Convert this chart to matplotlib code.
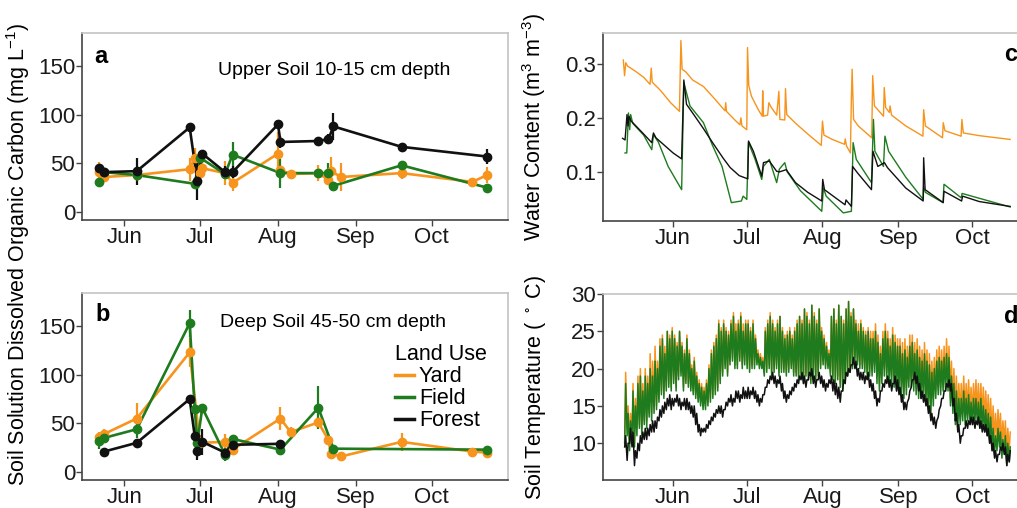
import datetime as dt
import numpy as np
import matplotlib
matplotlib.use("Agg")
import matplotlib.pyplot as plt
import matplotlib.dates as mdates
from matplotlib.lines import Line2D

plt.rcParams['font.family'] = ['Liberation Sans', 'DejaVu Sans']
plt.rcParams['mathtext.default'] = 'regular'

YARD = '#F7941D'
FIELD = '#1E7B1E'
FOREST = '#111111'

# ---- panel a: upper soil DOC (mg/L), sampling date, mean, error ----
a_yard_dates = ['05-22', '05-24', '06-06', '06-27', '06-29', '07-01', '07-02', '07-11', '07-14',
                '08-01', '08-02', '08-06', '08-17', '08-21', '08-22', '08-26', '09-19', '10-17', '10-23']
a_yard = [41, 36, 38, 44, 56, 40, 45, 40, 30, 60, 43, 39, 40, 33, 42, 36, 40, 31, 38]
a_yard_err = [10, 4, 5, 12, 10, 6, 6, 12, 8, 22, 5, 3, 8, 5, 15, 14, 6, 3, 8]

a_field_dates = ['05-22', '05-24', '06-06', '06-29', '07-01', '07-11', '07-14', '08-02',
                 '08-17', '08-21', '08-23', '09-19', '10-23']
a_field = [31, 41, 38, 29, 56, 39, 59, 40, 40, 40, 27, 48, 25]
a_field_err = [3, 4, 6, 4, 6, 4, 13, 15, 4, 10, 3, 3, 2]

a_forest_dates = ['05-22', '05-24', '06-06', '06-27', '06-30', '07-02', '07-11', '07-14',
                  '08-01', '08-02', '08-17', '08-21', '08-23', '09-19', '10-23']
a_forest = [45, 41, 42, 87, 32, 60, 41, 41, 90, 72, 73, 75, 88, 67, 57]
a_forest_err = [3, 2, 14, 3, 20, 3, 6, 6, 4, 6, 4, 5, 14, 4, 8]

# ---- panel b: deep soil DOC ----
b_yard_dates = ['05-22', '05-24', '06-06', '06-27', '07-01', '07-11', '07-14', '08-02',
                '08-06', '08-17', '08-21', '08-22', '08-26', '09-19', '10-17', '10-23']
b_yard = [36, 39, 55, 123, 30, 31, 23, 55, 41, 51, 33, 19, 16, 31, 21, 20]
b_yard_err = [5, 5, 16, 15, 8, 8, 6, 12, 5, 6, 4, 3, 3, 9, 3, 3]

b_field_dates = ['05-22', '05-24', '06-06', '06-27', '06-29', '06-30', '07-02', '07-11',
                 '07-14', '08-02', '08-17', '08-23', '10-23']
b_field = [32, 35, 44, 153, 65, 30, 66, 18, 34, 23, 66, 24, 23]
b_field_err = [8, 5, 9, 14, 4, 12, 4, 7, 4, 3, 22, 3, 2]

b_forest_dates = ['05-24', '06-06', '06-27', '06-29', '06-30', '07-02', '07-11', '07-14', '08-02']
b_forest = [21, 30, 75, 37, 22, 31, 20, 28, 29]
b_forest_err = [3, 3, 3, 3, 10, 13, 3, 3, 3]

# ---- panel c: volumetric water content, vertices (days after 1 Jun, value) ----
c_yard_day = [-20.3, -19.8, -19.3, -18.6, -15, -12, -9.4, -8.9, -8.5, -5, -1, 2.6, 3.2, 3.7, 5.2, 8,
              12.4, 17, 21.2, 21.5, 21.8, 25, 27.3, 27.7, 28.1, 30.1, 30.4, 30.9, 32, 34.8, 36.4,
              36.6, 36.9, 38.6, 39.1, 40, 42.3, 43.2, 43.6, 45.6, 45.9, 46.4, 50, 55, 60.5, 61.0,
              61.6, 65, 70.0, 70.3, 70.8, 72.4, 72.8, 73.1, 73.7, 75.6, 81.1, 81.5, 82.2, 85.9,
              86.2, 86.8, 88.3, 88.6, 89.2, 95, 102.0, 102.3, 103.0, 110.0, 110.3, 111.0, 117.6,
              117.9, 118.5, 125, 137.6]
c_yard = [0.307, 0.278, 0.302, 0.296, 0.285, 0.275, 0.262, 0.292, 0.266, 0.25, 0.228, 0.212,
          0.343, 0.29, 0.285, 0.27, 0.258, 0.235, 0.213, 0.228, 0.212, 0.197, 0.187, 0.2, 0.185,
          0.178, 0.33, 0.26, 0.24, 0.215, 0.203, 0.25, 0.203, 0.205, 0.228, 0.22, 0.205, 0.249,
          0.197, 0.196, 0.254, 0.206, 0.19, 0.17, 0.149, 0.194, 0.168, 0.16, 0.151, 0.161, 0.148,
          0.135, 0.237, 0.29, 0.197, 0.185, 0.163, 0.278, 0.222, 0.203, 0.256, 0.219, 0.21, 0.222,
          0.205, 0.185, 0.166, 0.215, 0.185, 0.163, 0.191, 0.176, 0.166, 0.197, 0.172, 0.167, 0.16]

c_field_day = [-19.6, -18.9, -18.2, -17.7, -17.3, -16.5, -12, -8.7, -8.0, -6, -2, 3.5, 4.4, 6.9,
               12.4, 16, 20, 23.8, 27.9, 28.6, 30.1, 30.8, 33.5, 36.2, 36.9, 39.3, 42.3, 43.4,
               45.6, 46.6, 52, 60.7, 61.4, 62.5, 69.5, 72.8, 73.5, 74.8, 81.0, 81.8, 82.4, 85.9,
               86.5, 88, 95, 102.1, 102.3, 103, 110.2, 110.6, 117.6, 118.0, 137.6]
c_field = [0.135, 0.135, 0.209, 0.178, 0.206, 0.19, 0.168, 0.141, 0.169, 0.155, 0.11, 0.067,
           0.265, 0.222, 0.191, 0.15, 0.11, 0.043, 0.046, 0.055, 0.049, 0.154, 0.123, 0.086,
           0.11, 0.123, 0.08, 0.105, 0.117, 0.1, 0.065, 0.027, 0.07, 0.055, 0.024, 0.027, 0.154,
           0.123, 0.08, 0.197, 0.138, 0.11, 0.166, 0.138, 0.09, 0.049, 0.073, 0.062, 0.043,
           0.077, 0.052, 0.06, 0.035]

c_forest_day = [-20.6, -19.6, -18.8, -18.4, -18.0, -17.3, -12, -8.7, -8.0, -7, 0, 3.5, 4.4, 5.5,
                8.9, 12.4, 16, 20.5, 23.3, 27, 30.5, 30.8, 32.8, 36.2, 36.9, 39.3, 42.3, 43.5,
                46.2, 50, 55, 60.7, 61.1, 61.8, 70.2, 70.6, 72.8, 73.3, 75.3, 81.0, 81.6, 83.6,
                86.3, 87.5, 95, 102.1, 102.3, 102.9, 110.3, 110.6, 117.8, 118.2, 125, 137.6]
c_forest = [0.162, 0.159, 0.206, 0.185, 0.203, 0.195, 0.17, 0.154, 0.172, 0.163, 0.135, 0.124,
            0.27, 0.225, 0.203, 0.18, 0.155, 0.125, 0.108, 0.093, 0.087, 0.157, 0.138, 0.092,
            0.117, 0.12, 0.101, 0.1, 0.104, 0.08, 0.062, 0.046, 0.086, 0.067, 0.039, 0.048,
            0.036, 0.11, 0.098, 0.067, 0.138, 0.11, 0.117, 0.108, 0.07, 0.046, 0.126, 0.067,
            0.043, 0.064, 0.046, 0.055, 0.045, 0.036]

# ---- panel d: daily min / max soil temperature, 12 May - 16 Oct ----
d_start = dt.datetime(2017, 5, 12)
yard_tmax = [19.5, 15, 14, 18, 16, 19, 20, 18, 20, 19, 22, 21, 23, 21, 24, 24.5, 23, 25, 24.5, 25.5,
             24.5, 23.5, 25, 23.5, 22.5, 24.5, 22.5, 20.5, 21.5, 19.5, 18.5, 18, 17.5, 18.5, 20.5,
             22.5, 23.5, 24.5, 26.5, 25.5, 26.5, 25.5, 25, 26.5, 27.5, 26, 26.5, 27.5, 26, 26.5,
             26.5, 25.5, 26.5, 24.5, 22.5, 22, 21.5, 25.5, 26.5, 27.5, 26.5, 25.5, 26.5, 27, 25.5,
             24.5, 25, 25.5, 24.5, 25.5, 26.5, 27, 26.5, 28, 27.5, 26.5, 28.5, 27.5, 26.5, 28, 25.5,
             24.5, 23.5, 22.5, 27, 28, 26.5, 28.5, 27, 26.5, 28, 29, 27.5, 28, 26.5, 26, 26.5, 25.5,
             25, 25.5, 25, 25, 26, 24.5, 23, 25, 26, 25, 24, 25.5, 24.5, 24,
             24, 23.5, 24, 23, 24.5, 24.5, 23.5, 24, 23, 22.5, 23.5, 22.5, 22, 21, 21.5, 22.5, 23,
             22.5, 23, 24, 23, 21, 20, 19, 18, 18, 19, 18, 18.5, 17.5,
             18, 18.5, 18, 18, 17.5, 17, 16.5, 16, 15, 14, 14.5, 14, 13, 13, 12, 11.5]
yard_tmin = [10.5, 12, 10, 11, 10, 12, 12.5, 12, 13, 13, 14, 14, 15, 15, 16, 17, 16.5, 17.5, 18, 17.5,
             18.5, 17.5, 19, 19.5, 17.5, 18.5, 18, 17.5, 17, 16.5, 16, 15.5, 15, 15, 15.5, 16, 16.5,
             17, 17.5, 18.5, 19.5, 20.5, 19.5, 21, 21.5, 20.5, 20.5, 21.5, 20.5, 21,
             20.5, 20, 20.5, 20.5, 21, 20.5, 20.5, 19.5, 20, 20.5, 19.5, 20, 20.5, 19.5, 20, 20,
             19.5, 20, 20.5, 19.5, 19.5, 19, 19.5, 18.5, 19.5, 19, 18.5, 19.5, 19, 19.5, 20.5,
             21, 20.5, 20.5, 19.5, 19, 18.5, 19, 18, 17.5, 18.5, 19.5, 20, 20.5, 21.5, 21, 20.5,
             20.5, 20, 19.5, 19.5, 20, 20.5, 19, 18, 19, 20, 19.5, 19, 19, 18.5, 18,
             18, 17.5, 17, 17.5, 18.5, 18.5, 18, 17.5, 17, 17, 17, 16.5, 15.5, 15, 16, 17, 17.5,
             17.5, 18, 18, 18, 16, 15, 14, 13.5, 14, 14.5, 14, 14.5, 14,
             14, 14.5, 14, 13.5, 13.5, 13, 12.5, 11.5, 10.5, 10, 10.5, 11, 9.5, 10, 8.5, 9]
field_tmax = [18, 14, 13, 17, 15, 18, 19, 17, 19, 18, 20, 19, 21, 20, 23, 24, 22, 25, 24, 25,
              24, 23, 25, 23, 22, 24, 22, 20, 21, 19, 18, 17.5, 17, 18, 20, 22, 23, 24, 26, 25,
              26, 25, 24.5, 26, 27, 25, 26, 27, 25, 26,
              26, 25, 26, 24, 22, 21.5, 21, 25, 26, 27, 26, 25, 26, 27, 25, 24, 24.5, 25, 24, 25,
              26, 27, 26, 28, 27, 26, 28.5, 27, 26, 28, 25,
              24, 23, 22, 27, 28, 26, 28.5, 27, 26, 28, 29, 27, 28, 26, 25, 26, 25, 24.5, 25, 24,
              24, 25, 23.5, 22, 24, 25, 24, 23, 24.5, 23.5, 23,
              23, 22, 22.5, 21.5, 23, 23.5, 22, 22.5, 21.5, 21, 22, 21, 20.5, 19.5, 20, 21, 21.5,
              21, 21.5, 22, 21.5, 19, 18, 17, 16, 16, 17, 16, 16.5, 15.5,
              16, 16, 15.5, 16, 15, 14.5, 14, 13.5, 12, 11, 12, 11.5, 10.5, 11, 10, 9.5]
field_tmin = [10, 11, 9, 10, 9.5, 11, 12, 11, 12.5, 12, 13.5, 13, 14, 14.5, 15.5, 16.5, 16, 17, 17.5, 17,
              18, 17, 18.5, 19, 17, 18, 17.5, 17, 16.5, 16, 15.5, 15, 14.5, 14.5, 15, 15.5, 16,
              16.5, 17, 18, 19, 20, 19, 20.5, 21, 20, 20, 21, 20, 20.5,
              20, 19.5, 20, 20, 20.5, 20, 20, 19, 19.5, 20, 19, 19.5, 20, 19, 19.5, 19.5, 19, 19.5,
              20, 19, 19, 18.5, 19, 18, 19, 18.5, 18, 19, 18.5, 19, 20,
              20.5, 20, 20, 19, 18.5, 18, 18.5, 17.5, 17, 18, 19, 19.5, 20, 21, 20.5, 20, 20, 19.5,
              19, 19, 19, 19.5, 18, 17, 18, 19, 18.5, 18, 18, 17.5, 17,
              17, 16.5, 16, 16.5, 17.5, 17.5, 17, 16.5, 16, 16, 16, 15.5, 14.5, 14, 15, 16, 16.5,
              16.5, 17, 17, 17, 15, 14, 12.5, 12, 12.5, 13, 12.5, 13, 12.5,
              12.5, 13, 12.5, 12, 12, 11.5, 11, 10, 9, 8.5, 9, 9.5, 8, 8.5, 7, 7.5]
forest_tmax = [11, 10, 12, 11.5, 9, 10, 11, 11.5, 12, 12, 12.5, 13, 13, 13.5, 14.5, 15, 15.5, 16, 16.5, 16,
               16, 16.5, 16, 15.5, 16, 16, 15.5, 15, 15, 14, 12.5, 12, 12, 12.5, 13, 13.5, 14, 14.5,
               15, 15, 14.5, 15.5, 16, 16.5, 16, 17, 17, 16.5, 17.5, 17,
               17.5, 17, 17.5, 17, 16.5, 16, 16.5, 17.5, 18.5, 19, 19.5, 19, 18.5, 19, 18, 17, 16.5,
               17, 17.5, 18, 18.5, 19, 19.5, 19, 18.5, 19.5, 20, 19, 18.5, 19.5, 19,
               18.5, 18, 18.5, 19, 18.5, 18, 17.5, 17, 18.5, 19.5, 20, 20.5, 21.5, 21, 20, 19.5,
               19.5, 19, 19.5, 18.5, 18, 17, 16, 17, 18, 18.5, 19, 18.5, 18, 19, 18.5,
               17.5, 16.5, 15.5, 15.5, 17, 18.5, 19.5, 19, 18, 17, 16.5, 16, 15, 14, 13.5, 13, 14.5,
               16, 17, 18, 18.5, 18, 16, 14, 12.5, 11, 12, 13, 13, 13.5,
               13.5, 13, 13.5, 13, 12.5, 12.5, 12, 11, 10, 9, 8.5, 9.5, 10, 9.5, 8.5, 9]
forest_tmin = [9.5, 7.7, 10, 9.5, 7, 8, 9, 10, 10.5, 10.5, 11, 11.5, 11.5, 12, 13, 13.5, 14, 14.5, 15, 14.5,
               15, 15.5, 15, 14.5, 15, 14.5, 14.5, 14, 13.5, 12.5, 11.5, 11, 11.5, 11.5, 12, 12.5,
               13, 13.5, 14, 14, 13.5, 14.5, 15, 15.5, 15, 15.5, 16, 15.5, 16, 16,
               16, 16, 16.5, 16, 15.5, 15, 15.5, 16.5, 17.5, 18, 18.5, 18, 17.5, 18, 17, 16, 15.5,
               16, 16.5, 17, 17.5, 18, 18.5, 18, 17.5, 18.5, 19, 18, 17.5, 18.5, 18,
               17.5, 17, 17.5, 18, 17, 16.5, 16, 15.5, 17, 18, 19, 19.5, 20.5, 20, 19, 18.5, 18.5,
               18, 18.5, 17.5, 17, 16, 15, 15.5, 17, 17.5, 18, 17.5, 17, 18, 17,
               16.5, 15.5, 14.5, 14.5, 16, 17.5, 18.5, 18, 17, 16, 15.5, 15, 14, 13, 12.5, 12, 13.5,
               15, 16, 17, 17.5, 17, 15, 13, 11.5, 10, 11, 12, 12, 12.5,
               12.5, 12, 12.5, 12, 11.5, 11.5, 11, 10, 9, 8, 7.5, 8.5, 9, 8.5, 7, 7.5]

JUN1 = dt.datetime(2017, 6, 1)


def to_date(s):
    return dt.datetime.strptime('2017-' + s, '%Y-%m-%d')


def after_jun1(days):
    return [JUN1 + dt.timedelta(days=x) for x in days]


def style(ax):
    for s in ['top', 'right']:
        ax.spines[s].set_color('#c4c4c4')
    for s in ['left', 'bottom']:
        ax.spines[s].set_color('#444444')
    for s in ax.spines.values():
        s.set_linewidth(1.2)
    ax.tick_params(length=4, width=1, color='#444444', labelsize=16, pad=1,
                   labelcolor='#1a1a1a')
    ax.xaxis.set_major_locator(mdates.MonthLocator())
    ax.xaxis.set_major_formatter(mdates.DateFormatter('%b'))


def doc_series(ax, dates, vals, errs, color):
    x = [to_date(s) for s in dates]
    ax.plot(x, vals, color=color, lw=1.9, zorder=3)
    ax.errorbar(x, vals, yerr=errs, fmt='o', color=color, ms=6,
                elinewidth=1.6, capsize=0, zorder=3)


W, H = 1017, 508
fig = plt.figure(figsize=(W / 100, H / 100), dpi=100)

ax_a = fig.add_axes([82 / W, (H - 220) / H, 426 / W, 187 / H])
ax_b = fig.add_axes([82 / W, (H - 480) / H, 426 / W, 187 / H])
ax_c = fig.add_axes([603 / W, (H - 221) / H, 425 / W, 188 / H])
ax_d = fig.add_axes([603 / W, (H - 480) / H, 425 / W, 186 / H])

# a
doc_series(ax_a, a_yard_dates, a_yard, a_yard_err, YARD)
doc_series(ax_a, a_field_dates, a_field, a_field_err, FIELD)
doc_series(ax_a, a_forest_dates, a_forest, a_forest_err, FOREST)
# b
doc_series(ax_b, b_yard_dates, b_yard, b_yard_err, YARD)
doc_series(ax_b, b_field_dates, b_field, b_field_err, FIELD)
doc_series(ax_b, b_forest_dates, b_forest, b_forest_err, FOREST)

for ax in (ax_a, ax_b):
    style(ax)
    ax.set_xlim(JUN1 - dt.timedelta(days=16.7), JUN1 + dt.timedelta(days=152.2))
    ax.set_ylim(-8.2, 184)
    ax.set_yticks([0, 50, 100, 150])

ax_a.text(0.045, 0.877, 'a', transform=ax_a.transAxes, fontsize=17, fontweight='bold',
          ha='center', va='center')
ax_a.text(0.592, 0.80, 'Upper Soil 10-15 cm depth', transform=ax_a.transAxes, fontsize=14,
          ha='center', va='center')
ax_b.text(0.049, 0.883, 'b', transform=ax_b.transAxes, fontsize=17, fontweight='bold',
          ha='center', va='center')
ax_b.text(0.589, 0.84, 'Deep Soil 45-50 cm depth', transform=ax_b.transAxes, fontsize=14,
          ha='center', va='center')

handles = [Line2D([], [], color=YARD, lw=2.5), Line2D([], [], color=FIELD, lw=2.5),
           Line2D([], [], color=FOREST, lw=2.5)]
leg = ax_b.legend(handles, ['Yard', 'Field', 'Forest'], title='Land Use', loc='upper left',
                  bbox_to_anchor=(0.735, 0.727), frameon=False, fontsize=15.5,
                  title_fontsize=15.5, handlelength=0.9, handletextpad=0.2,
                  labelspacing=0.05, borderpad=0, borderaxespad=0)
leg._legend_box.align = 'left'

fig.text(18 / W, 0.5, 'Soil Solution Dissolved Organic Carbon (mg L$^{-1}$)', rotation=90,
         ha='center', va='center', fontsize=15.5)

# c
ax_c.plot(after_jun1(c_yard_day), c_yard, color=YARD, lw=1.0)
ax_c.plot(after_jun1(c_field_day), c_field, color=FIELD, lw=1.0)
ax_c.plot(after_jun1(c_forest_day), c_forest, color=FOREST, lw=1.0)
style(ax_c)
ax_c.set_xlim(JUN1 - dt.timedelta(days=28.6), JUN1 + dt.timedelta(days=144.9))
ax_c.set_ylim(0.009, 0.357)
ax_c.set_yticks([0.1, 0.2, 0.3])
ax_c.set_ylabel('Water Content (m$^3$ m$^{-3}$)', fontsize=15.5)
ax_c.yaxis.set_label_coords(-0.129, 0.5)
ax_c.text(0.96, 0.888, 'c', transform=ax_c.transAxes, fontsize=17, fontweight='bold',
          ha='center', va='center')

# d: each day drawn as a min -> max swing
for tmin, tmax, col in [(yard_tmin, yard_tmax, YARD), (field_tmin, field_tmax, FIELD),
                        (forest_tmin, forest_tmax, FOREST)]:
    days = np.arange(len(tmin))
    t = np.ravel(np.column_stack([days + 0.25, days + 0.65]))
    v = np.ravel(np.column_stack([tmin, tmax]))
    ax_d.plot([d_start + dt.timedelta(days=float(x)) for x in t], v, color=col, lw=1.1)
style(ax_d)
ax_d.set_xlim(JUN1 - dt.timedelta(days=28.6), JUN1 + dt.timedelta(days=144.9))
ax_d.set_ylim(5.07, 30)
ax_d.set_yticks([10, 15, 20, 25, 30])
ax_d.set_ylabel('Soil Temperature ( $^\\circ$ C)', fontsize=15.5)
ax_d.yaxis.set_label_coords(-0.129, 0.5)
ax_d.text(0.96, 0.88, 'd', transform=ax_d.transAxes, fontsize=17, fontweight='bold',
          ha='center', va='center')

fig.savefig('out.png', dpi=100)
